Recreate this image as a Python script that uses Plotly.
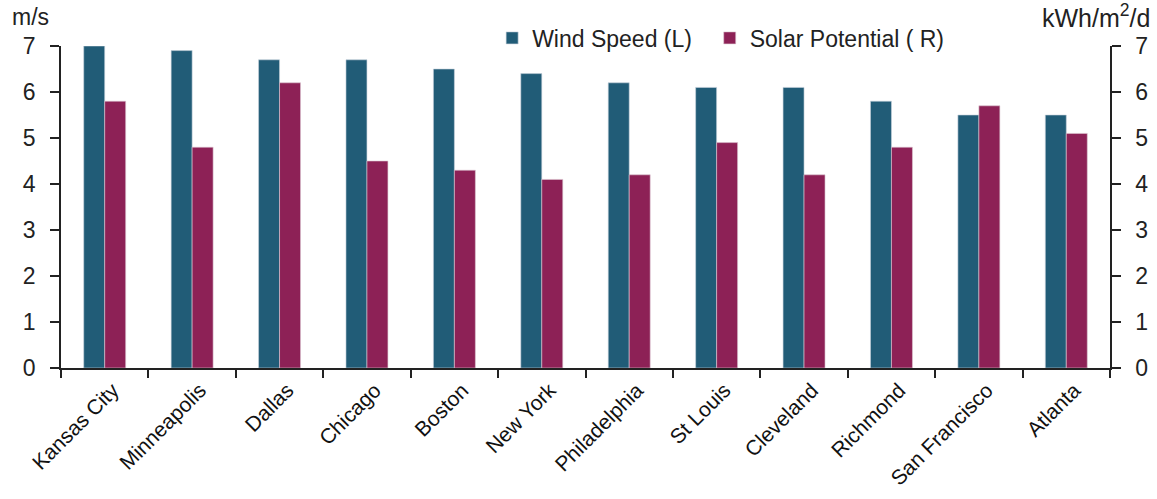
import plotly.graph_objects as go

cities = ["Kansas City", "Minneapolis", "Dallas", "Chicago", "Boston", "New York",
          "Philadelphia", "St Louis", "Cleveland", "Richmond", "San Francisco", "Atlanta"]
wind_speed = [7.0, 6.9, 6.7, 6.7, 6.5, 6.4, 6.2, 6.1, 6.1, 5.8, 5.5, 5.5]
solar_potential = [5.8, 4.8, 6.2, 4.5, 4.3, 4.1, 4.2, 4.9, 4.2, 4.8, 5.7, 5.1]
y_ticks = [0, 1, 2, 3, 4, 5, 6, 7]

WIND = "#215C77"
SOLAR = "#8D2156"
FONT = "Liberation Sans"

fig = go.Figure()
fig.add_trace(go.Bar(x=cities, y=wind_speed, name="Wind Speed (L)\u00a0\u00a0", marker_color=WIND,
                     marker_line=dict(color="rgba(200,210,220,0.6)", width=1),
                     offsetgroup="1", yaxis="y"))
fig.add_trace(go.Bar(x=cities, y=solar_potential, name="Solar Potential ( R)", marker_color=SOLAR,
                     marker_line=dict(color="rgba(220,200,210,0.6)", width=1),
                     offsetgroup="2", yaxis="y2"))

axis_common = dict(range=[0, 7], tickvals=y_ticks, showgrid=False, zeroline=False,
                   showline=True, linecolor="#222", linewidth=1.5, ticks="outside",
                   ticklen=9, tickcolor="#222", tickwidth=1.5, ticklabelstandoff=10,
                   tickfont=dict(family=FONT, size=23, color="#222"))

fig.update_layout(
    width=1157, height=499,
    margin=dict(l=61, r=47, t=46, b=131),
    plot_bgcolor="white", paper_bgcolor="white",
    barmode="group", bargap=0.52, bargroupgap=0,
    font=dict(family=FONT, color="#222"),
    xaxis=dict(showline=True, linecolor="#222", linewidth=1.5, ticks="outside",
               tickson="boundaries", ticklen=8, tickcolor="#222", tickwidth=1.5,
               tickangle=-45, ticklabelshift=8,
               tickfont=dict(family=FONT, size=21, color="#111"),
               showgrid=False, automargin=False),
    yaxis=dict(**axis_common, automargin=False),
    yaxis2=dict(**axis_common, overlaying="y", side="right", automargin=False),
    legend=dict(orientation="h", x=0.411, y=1.025, xanchor="left", yanchor="middle",
                font=dict(family=FONT, size=23, color="#222"),
                bgcolor="rgba(0,0,0,0)", itemwidth=30, traceorder="normal"),
    annotations=[
        dict(text="m/s", x=0, y=1.0, xref="paper", yref="paper", xanchor="right",
             yanchor="bottom", xshift=-10, yshift=14, showarrow=False,
             font=dict(family=FONT, size=23, color="#222")),
        dict(text="kWh/m<sup>2</sup>/d", x=1, y=1.0, xref="paper", yref="paper",
             xanchor="right", yanchor="bottom", xshift=42, yshift=12, showarrow=False,
             font=dict(family=FONT, size=25, color="#222")),
    ],
)

fig.write_html("out.html")
